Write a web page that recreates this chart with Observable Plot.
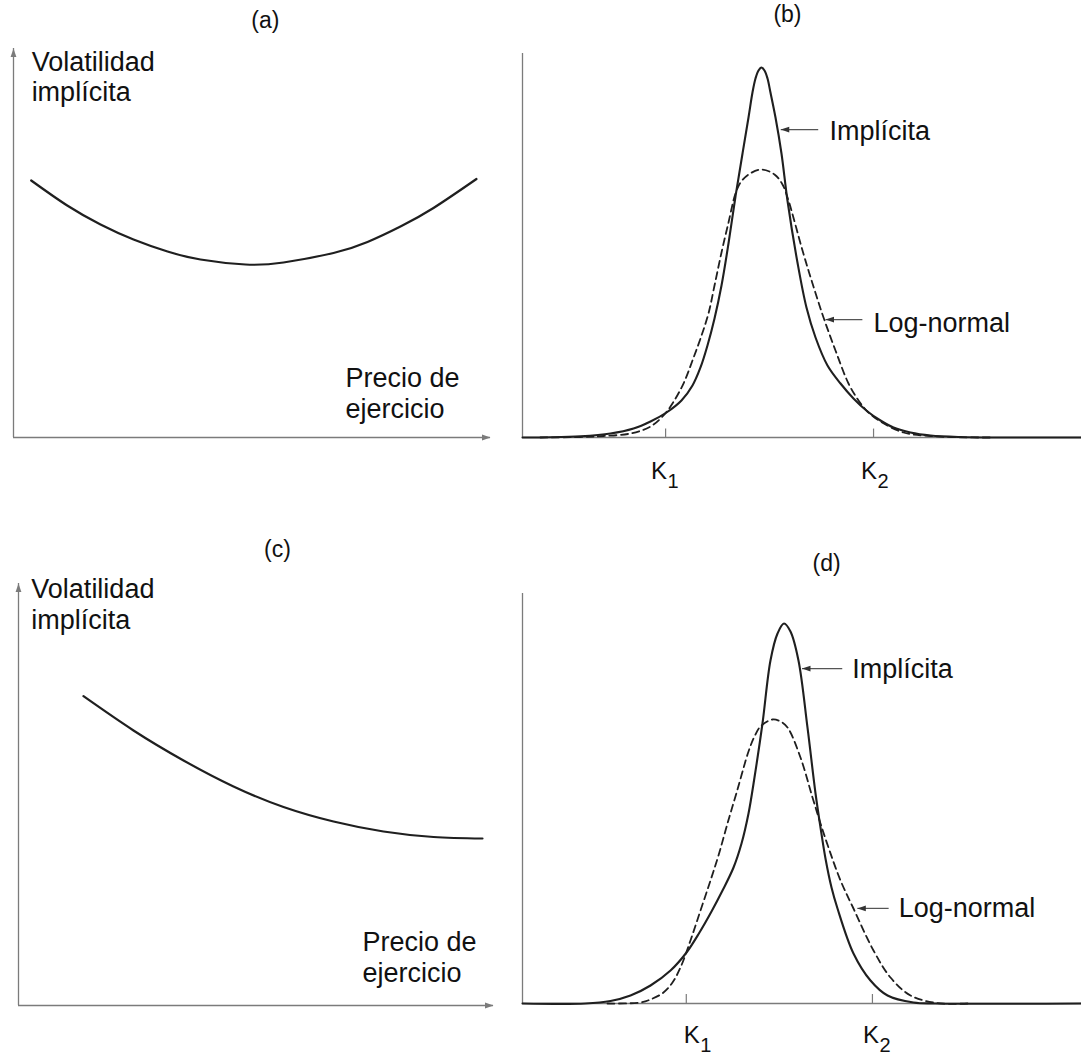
<!DOCTYPE html>
<html>
<head>
<meta charset="utf-8">
<script src="https://cdn.jsdelivr.net/npm/d3@7"></script>
<script src="https://cdn.jsdelivr.net/npm/@observablehq/plot@0.6"></script>
<style>
  html, body { margin: 0; padding: 0; background: #ffffff; }
  #fig { position: relative; width: 1081px; height: 1055px; overflow: hidden; background: #ffffff; }
  .panel { position: absolute; }
</style>
</head>
<body>
<div id="fig">
  <div class="panel" id="pa" style="left:0px;top:0px;"></div>
  <div class="panel" id="pb" style="left:510px;top:0px;"></div>
  <div class="panel" id="pc" style="left:0px;top:530px;"></div>
  <div class="panel" id="pd" style="left:510px;top:530px;"></div>
</div>
<script>
// ---------------- DATA (arbitrary 0–100 units) ----------------
// (a) volatility smile
const smileStrike = [3.71, 11.26, 18.24, 25.16, 32.29, 39.20, 48.64, 56.60, 67.09, 74.21, 81.13, 88.05, 97.06];
const smileVol    = [66.07, 59.64, 54.76, 50.90, 47.81, 45.76, 44.47, 44.99, 47.43, 50.26, 54.24, 59.00, 66.45];

// (c) volatility skew
const skewStrike = [13.68, 24.21, 34.74, 45.26, 55.79, 66.32, 76.84, 87.37, 97.68];
const skewVol    = [73.29, 65.17, 58.06, 51.90, 47.04, 43.60, 41.23, 39.93, 39.57];

// (b) implied distribution vs log-normal
const bImpliedX = [0, 5.01, 10.38, 15.74, 19.86, 22.90, 25.76, 28.44, 30.41, 31.84, 33.09, 34.35, 35.60, 36.85, 38.10, 39.36, 40.43, 41.14, 41.68, 42.22, 42.75, 43.29, 43.83, 44.36, 45.26, 46.33, 47.40, 49.19, 50.80, 52.42, 54.56, 56.89, 59.21, 61.72, 64.04, 66.37, 69.41, 72.99, 78.35, 85.50, 100];
const bImpliedY = [0, 0.05, 0.31, 1.04, 2.34, 4.17, 6.51, 9.64, 13.54, 18.23, 23.96, 30.99, 39.58, 50.52, 62.76, 73.96, 83.33, 89.84, 93.49, 95.57, 96.35, 95.57, 93.49, 89.84, 83.33, 73.96, 61.72, 45.57, 33.85, 26.04, 18.75, 14.06, 10.16, 6.77, 4.43, 2.60, 1.30, 0.52, 0.13, 0, 0];
const bLognormX = [3.22, 10.38, 14.49, 19.32, 22.90, 25.22, 26.83, 28.80, 30.41, 31.84, 33.27, 34.35, 35.60, 36.85, 38.10, 39.00, 40.43, 42.75, 45.08, 46.51, 47.58, 50.09, 51.88, 53.85, 55.99, 58.32, 60.11, 61.72, 64.04, 68.16, 72.99, 78.35, 83.72];
const bLognormY = [0, 0.13, 0.39, 1.04, 2.86, 5.73, 8.85, 14.06, 20.05, 25.78, 32.29, 39.58, 48.18, 55.99, 63.54, 66.41, 68.49, 69.79, 68.49, 65.89, 61.72, 48.70, 40.10, 31.25, 22.66, 14.06, 9.64, 6.77, 4.17, 1.30, 0.39, 0.05, 0];

// (d) implied distribution vs log-normal
const dImpliedX = [0, 11.27, 15.74, 19.32, 22.90, 26.48, 29.34, 31.66, 33.81, 35.78, 37.75, 39.18, 40.43, 41.50, 42.93, 44.36, 45.62, 46.78, 47.94, 49.37, 50.98, 52.42, 53.31, 54.20, 55.28, 56.35, 59.21, 62.25, 65.30, 69.95, 73.88, 100];
const dImpliedY = [0, 0, 0.61, 1.95, 4.39, 8.05, 12.44, 17.32, 22.44, 27.56, 33.17, 39.02, 46.34, 55.12, 68.29, 83.66, 90.24, 92.68, 90.73, 83.66, 67.32, 51.22, 42.93, 35.37, 28.29, 23.17, 12.20, 5.61, 1.95, 0.24, 0, 0];
const dLognormX = [15.21, 21.11, 22.90, 25.22, 26.83, 28.26, 30.05, 31.84, 33.63, 35.06, 36.67, 38.46, 40.43, 41.50, 42.58, 44.72, 46.15, 47.41, 49.73, 51.88, 53.31, 54.92, 56.89, 59.21, 62.79, 65.83, 69.41, 74.24, 79.61];
const dLognormY = [0, 0.24, 0.98, 2.68, 5.12, 8.78, 15.37, 22.68, 30.00, 36.10, 43.90, 52.20, 61.46, 65.12, 67.56, 69.27, 68.78, 67.32, 60.00, 50.24, 43.90, 37.32, 30.00, 23.17, 12.93, 6.34, 1.95, 0.10, 0];

// strike ticks
const bStrikeTicks = [25.6, 62.8];
const dStrikeTicks = [29.3, 62.6];
const strikeNames = ["K", "K"];
const strikeSubs = ["1", "2"];

// text labels
const panelTitles = ["(a)", "(b)", "(c)", "(d)"];
const yLabel = "Volatilidad\nimplícita";
const xLabel = "Precio de\nejercicio";
const impliedLabel = "Implícita";
const lognormLabel = "Log-normal";

// ---------------- STYLE ----------------
const FONT = '"Liberation Sans", Arial, Helvetica, sans-serif';
const AXIS = "#7b7b7b";
const INK = "#1f1f1f";
const TEXT = "#111111";
const rows = (xs, ys) => xs.map((x, i) => ({x, y: ys[i]}));

// narrow arrowhead with tip at the origin, pointing up
const arrowHead = {
  draw(ctx) {
    ctx.moveTo(0, 0);
    ctx.lineTo(-2.9, 8.5);
    ctx.lineTo(2.9, 8.5);
    ctx.closePath();
  }
};

function panel({width, height, mt, mr, mb, ml, marks}) {
  return Plot.plot({
    width, height,
    marginTop: mt, marginRight: mr, marginBottom: mb, marginLeft: ml,
    x: {domain: [0, 100], axis: null},
    y: {domain: [0, 100], axis: null},
    style: {fontFamily: FONT, background: "transparent", overflow: "visible"},
    marks
  });
}

function volPanel(strike, vol, title, titleX, titleY, yl, xl) {
  return [
    Plot.ruleX([0], {y1: 0, y2: 100, stroke: AXIS, strokeWidth: 1.3}),
    Plot.ruleY([0], {x1: 0, x2: 100, stroke: AXIS, strokeWidth: 1.3}),
    Plot.dot([0], {x: 0, y: 100, symbol: arrowHead, fill: AXIS, stroke: "none", r: 3}),
    Plot.dot([0], {x: 100, y: 0, symbol: arrowHead, rotate: 90, fill: AXIS, stroke: "none", r: 3}),
    Plot.line(rows(strike, vol), {x: "x", y: "y", curve: "natural", stroke: INK, strokeWidth: 2.2}),
    Plot.text([yLabel], {x: yl[0], y: yl[1], textAnchor: "start", lineAnchor: "bottom", lineHeight: yl[2], fontSize: 27, fill: TEXT}),
    Plot.text([xLabel], {x: xl[0], y: xl[1], textAnchor: "start", lineAnchor: "bottom", lineHeight: xl[2], fontSize: 27, fill: TEXT}),
    Plot.text([title], {x: titleX, y: titleY, textAnchor: "middle", lineAnchor: "middle", fontSize: 23, fill: TEXT})
  ];
}

function densityPanel(impX, impY, logX, logY, ticks, tickDy, kDx, title, titleX, titleY, imp, logn) {
  const m = [
    Plot.ruleX([0], {y1: 0, y2: 100, stroke: AXIS, strokeWidth: 1.3}),
    Plot.ruleY([0], {x1: 0, x2: 100, stroke: AXIS, strokeWidth: 1.6}),
    Plot.ruleX(ticks, {y1: 0, y2: tickDy, stroke: AXIS, strokeWidth: 1.2}),
    Plot.line(rows(logX, logY), {x: "x", y: "y", curve: "catmull-rom", stroke: INK, strokeWidth: 1.8, strokeDasharray: "7,4.5"}),
    Plot.line(rows(impX, impY), {x: "x", y: "y", curve: "catmull-rom", stroke: INK, strokeWidth: 2.1}),
    Plot.text([title], {x: titleX, y: titleY, textAnchor: "middle", lineAnchor: "middle", fontSize: 23, fill: TEXT}),
    // callouts
    Plot.link([0], {x1: imp.ax1, x2: imp.ax2, y1: imp.ay, y2: imp.ay, stroke: "#555", strokeWidth: 1.2}),
    Plot.dot([0], {x: imp.ax2, y: imp.ay, symbol: arrowHead, rotate: -90, fill: "#333", stroke: "none", r: 3}),
    Plot.text([impliedLabel], {x: imp.tx, y: imp.ty, textAnchor: "start", lineAnchor: "bottom", fontSize: 27, fill: TEXT}),
    Plot.link([0], {x1: logn.ax1, x2: logn.ax2, y1: logn.ay, y2: logn.ay, stroke: "#555", strokeWidth: 1.2}),
    Plot.dot([0], {x: logn.ax2, y: logn.ay, symbol: arrowHead, rotate: -90, fill: "#333", stroke: "none", r: 3}),
    Plot.text([lognormLabel], {x: logn.tx, y: logn.ty, textAnchor: "start", lineAnchor: "bottom", fontSize: 27, fill: TEXT})
  ];
  ticks.forEach((t, i) => {
    m.push(Plot.text([strikeNames[i]], {x: t, y: 0, dx: kDx.k[i], dy: kDx.kdy, textAnchor: "middle", lineAnchor: "bottom", fontSize: 24, fill: TEXT}));
    m.push(Plot.text([strikeSubs[i]], {x: t, y: 0, dx: kDx.k[i] + 8.5, dy: kDx.kdy + 9, textAnchor: "start", lineAnchor: "bottom", fontSize: 20, fill: TEXT}));
  });
  return m;
}

// (a): frame x 13..490, y 48..437
document.getElementById("pa").appendChild(panel({
  width: 510, height: 500, mt: 48, mr: 20, mb: 63, ml: 13,
  marks: volPanel(smileStrike, smileVol, panelTitles[0], 52.8, 107.2, [3.8, 86.6, 1.08], [69.6, 4.9, 1.15])
}));

// (b): frame x 522..1081, y 53..437
document.getElementById("pb").appendChild(panel({
  width: 571, height: 500, mt: 53, mr: 0, mb: 63, ml: 12,
  marks: densityPanel(bImpliedX, bImpliedY, bLognormX, bLognormY, bStrikeTicks, 2.2,
    {k: [-6.5, -4.5], kdy: 41}, panelTitles[1], 47.4, 110.2,
    {ax1: 52.9, ax2: 46.2, ay: 80.2, tx: 54.9, ty: 77.6},
    {ax1: 60.8, ax2: 54.2, ay: 30.7, tx: 62.8, ty: 27.6})
}));

// (c): frame x 18..493, y 583..1005
document.getElementById("pc").appendChild(panel({
  width: 510, height: 525, mt: 53, mr: 17, mb: 50, ml: 18,
  marks: volPanel(skewStrike, skewVol, panelTitles[2], 54.5, 108.1, [2.7, 89.3, 1.15], [72.4, 5.5, 1.15])
}));

// (d): frame x 522..1081, y 593..1003
document.getElementById("pd").appendChild(panel({
  width: 571, height: 525, mt: 63, mr: 0, mb: 52, ml: 12,
  marks: densityPanel(dImpliedX, dImpliedY, dLognormX, dLognormY, dStrikeTicks, 2.2,
    {k: [5.5, -1.5], kdy: 39}, panelTitles[3], 54.4, 107.3,
    {ax1: 57.2, ax2: 50.0, ay: 81.7, tx: 59.0, ty: 79.5},
    {ax1: 65.5, ax2: 59.9, ay: 23.2, tx: 67.3, ty: 21.2})
}));
</script>
</body>
</html>
